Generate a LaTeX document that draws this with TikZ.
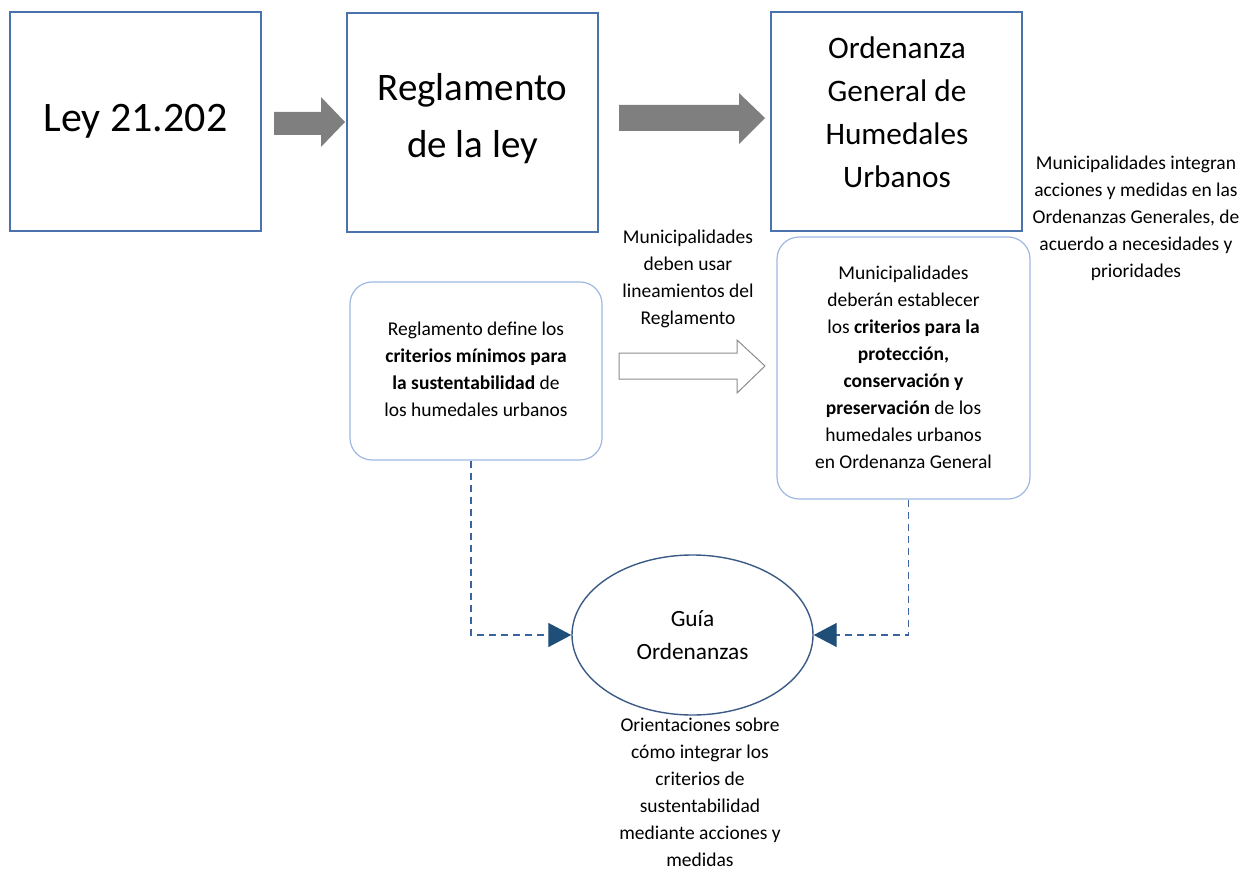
\documentclass[tikz,border=0pt]{standalone}
\usepackage{fontspec}
\setmainfont{Carlito}
\usetikzlibrary{arrows.meta,shapes.geometric}
\definecolor{boxblue}{HTML}{4A73AE}
\definecolor{roundblue}{HTML}{9DB9E0}
\definecolor{ellblue}{HTML}{3B5A85}
\definecolor{dashblue}{HTML}{3A64A0}
\definecolor{headblue}{HTML}{1F4E79}
\definecolor{arrowgray}{HTML}{7F7F7F}
\definecolor{hollowgray}{HTML}{8C8C8C}
\begin{document}
\begin{tikzpicture}[x=1pt,y=-1pt,
  topbox/.style={draw=boxblue,line width=1.2pt,minimum width=251pt,minimum height=219pt,inner sep=0pt},
  rbox/.style={draw=roundblue,line width=1.2pt,rounded corners=22pt,inner sep=0pt},
  small/.style={font=\fontsize{19.5}{27}\selectfont,align=center,inner sep=0pt},
  conn/.style={draw=dashblue,line width=1.3pt,dash pattern=on 7pt off 5pt,
    -{Triangle[length=23pt,width=24pt,fill=headblue,color=headblue,sep=0pt]}},
  blockarrow/.style={fill=arrowgray,draw=none}
]
\useasboundingbox (0,0) rectangle (1247,869);

% top boxes
\node[topbox,font=\fontsize{42}{50}\selectfont] (b1) at (135.5,121.5) {Ley 21.202};
\node[topbox] (b2) at (472.5,122.5) {};
\node[font=\fontsize{39}{57}\selectfont,align=center] (b2t) at (472.5,119) {Reglamento\\de la ley};
\node[topbox] (b3) at (896.5,121.5) {};
\node[font=\fontsize{31.3}{43}\selectfont,align=center] (b3t) at (897,112) {Ordenanza\\General de\\Humedales\\Urbanos};

% gray block arrows
\fill[blockarrow] (274,112) -- (321,112) -- (321,97) -- (345,122) -- (321,147) -- (321,135) -- (274,135) -- cycle;
\fill[blockarrow] (619,105) -- (739,105) -- (739,93) -- (765,118) -- (739,144) -- (739,131) -- (619,131) -- cycle;

% side text
\node[small] (side) at (1136,218) {Municipalidades integran\\acciones y medidas en las\\Ordenanzas Generales, de\\acuerdo a necesidades y\\prioridades};

% rounded boxes
\node[rbox,minimum width=252pt,minimum height=178pt] (lb) at (476,371) {};
\node[small] (lbt) at (476,369) {Reglamento define los\\\textbf{criterios mínimos para}\\\textbf{la sustentabilidad} de\\los humedales urbanos};

\node[rbox,minimum width=253pt,minimum height=262pt] (rb) at (903.5,368) {};
\node[small] (rbt) at (903.5,367) {Municipalidades\\deberán establecer\\los \textbf{criterios para la}\\\textbf{protección,}\\\textbf{conservación y}\\\textbf{preservación} de los\\humedales urbanos\\en Ordenanza General};

% middle label and hollow arrow
\node[small] (mid) at (688,279) {Municipalidades\\deben usar\\lineamientos del\\Reglamento};
\draw[draw=hollowgray,line width=1pt,fill=white] (619,353) -- (737,353) -- (737,340) -- (765,366) -- (737,393) -- (737,379) -- (619,379) -- cycle;

% ellipse
\node[ellipse,draw=ellblue,line width=1.4pt,minimum width=241pt,minimum height=160pt,inner sep=0pt,
  font=\fontsize{23.3}{33}\selectfont,align=center] (g) at (692.5,635) {Guía\\Ordenanzas};

% dashed connectors
\draw[conn] ([xshift=-5pt]lb.south) |- (g.west);
\draw[conn] ([xshift=5pt]rb.south) |- (g.east);

% bottom text
\node[small] (bot) at (700,792) {Orientaciones sobre\\cómo integrar los\\criterios de\\sustentabilidad\\mediante acciones y\\medidas};
\end{tikzpicture}
\end{document}
